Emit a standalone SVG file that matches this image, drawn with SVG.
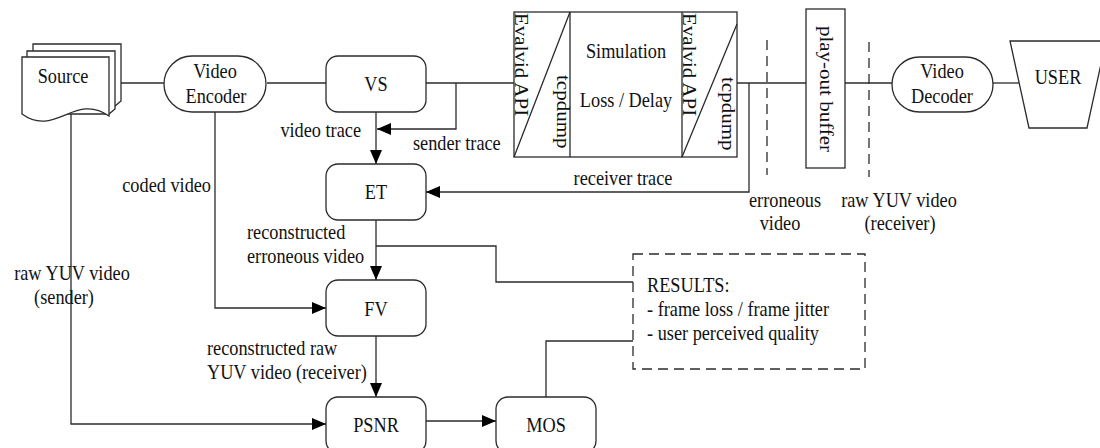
<svg xmlns="http://www.w3.org/2000/svg" width="1100" height="448" viewBox="0 0 1100 448">
  <defs>
    <style>
      .ln { fill: none; stroke: #2b2b2b; stroke-width: 1.3; }
      .dash { fill: none; stroke: #2b2b2b; stroke-width: 1.3; stroke-dasharray: 10 6; }
      .box { fill: #ffffff; stroke: #2b2b2b; stroke-width: 1.3; }
      .t { font-family: 'Liberation Serif', 'DejaVu Serif', serif; font-size: 21px; fill: #111111; }
      .m { text-anchor: middle; }
      .e { text-anchor: end; }
    </style>
    <marker id="arrow" markerUnits="userSpaceOnUse" markerWidth="14" markerHeight="12" refX="14" refY="6" orient="auto">
      <path d="M0,0 L14,6 L0,12 Z" fill="#000000"/>
    </marker>
  </defs>

  <rect width="1100" height="448" fill="#ffffff"/>

  <!-- connectors -->
  <g id="connectors">
    <path class="ln" d="M121,83 H164"/>
    <path class="ln" d="M267,83 H326"/>
    <path class="ln" d="M426,83 H514"/>
    <path class="ln" d="M456,83 V129 H377" marker-end="url(#arrow)"/>
    <path class="ln" d="M376,112 V164" marker-end="url(#arrow)"/>
    <path class="ln" d="M737,83 H806"/>
    <path class="ln" d="M749,83 V192 H426" marker-end="url(#arrow)"/>
    <path class="ln" d="M845,83 H892"/>
    <path class="ln" d="M993,83 H1021"/>
    <path class="ln" d="M71,112 V424 H326" marker-end="url(#arrow)"/>
    <path class="ln" d="M215,112 V308 H326" marker-end="url(#arrow)"/>
    <path class="ln" d="M376,220 V280" marker-end="url(#arrow)"/>
    <path class="ln" d="M376,246 H496 V282 H633"/>
    <path class="ln" d="M376,336 V397" marker-end="url(#arrow)"/>
    <path class="ln" d="M426,421 H496" marker-end="url(#arrow)"/>
    <path class="ln" d="M546,397 V341 H633"/>
    <!-- capture points on the link -->
    <path class="dash" d="M767,40 V175"/>
    <path class="dash" d="M869,42 V177"/>
  </g>

  <!-- connector labels -->
  <g id="labels" font-family="Liberation Serif, serif">
    <text class="t e" transform="translate(361,137) scale(0.87,1)">video trace</text>
    <text class="t" transform="translate(413,150) scale(0.87,1)">sender trace</text>
    <text class="t m" transform="translate(623,185) scale(0.87,1)">receiver trace</text>
    <text class="t e" transform="translate(211,192) scale(0.87,1)">coded video</text>
    <text class="t m" transform="translate(72,280) scale(0.87,1)">raw YUV video</text>
    <text class="t m" transform="translate(64,304) scale(0.87,1)">(sender)</text>
    <text class="t" transform="translate(247,239) scale(0.87,1)">reconstructed</text>
    <text class="t" transform="translate(247,263) scale(0.87,1)">erroneous video</text>
    <text class="t" transform="translate(207,355) scale(0.87,1)">reconstructed raw</text>
    <text class="t" transform="translate(207,379) scale(0.87,1)">YUV video (receiver)</text>
    <text class="t m" transform="translate(785,207) scale(0.87,1)">erroneous</text>
    <text class="t m" transform="translate(780,230) scale(0.87,1)">video</text>
    <text class="t m" transform="translate(899,207) scale(0.87,1)">raw YUV video</text>
    <text class="t m" transform="translate(900,230) scale(0.87,1)">(receiver)</text>
  </g>

  <!-- source: stacked documents -->
  <g id="source">
    <path class="box" d="M33,44 H121 V101 L115,106 L33,106 Z"/>
    <path class="box" d="M27,51 H115 V109 L109,114 L27,114 Z"/>
    <path class="box" d="M22,57 H109 V116 C75,92 55,138 22,114 Z"/>
    <text class="t m" transform="translate(63,83) scale(0.87,1)">Source</text>
  </g>

  <g id="video-encoder">
    <rect class="box" x="164" y="56" width="102" height="56" rx="28"/>
    <text class="t m" transform="translate(215,78) scale(0.87,1)">Video</text>
    <text class="t m" transform="translate(216,102.5) scale(0.87,1)">Encoder</text>
  </g>

  <g id="vs">
    <rect class="box" x="326" y="56" width="100" height="56" rx="12"/>
    <text class="t m" transform="translate(376,91) scale(0.87,1)">VS</text>
  </g>

  <g id="et">
    <rect class="box" x="326" y="164" width="100" height="56" rx="12"/>
    <text class="t m" transform="translate(376,199) scale(0.87,1)">ET</text>
  </g>

  <g id="fv">
    <rect class="box" x="326" y="280" width="100" height="56" rx="12"/>
    <text class="t m" transform="translate(376,316) scale(0.87,1)">FV</text>
  </g>

  <g id="psnr">
    <rect class="box" x="326" y="397" width="100" height="56" rx="12"/>
    <text class="t m" transform="translate(376,432) scale(0.87,1)">PSNR</text>
  </g>

  <g id="mos">
    <rect class="box" x="496" y="397" width="100" height="56" rx="12"/>
    <text class="t m" transform="translate(546,432) scale(0.87,1)">MOS</text>
  </g>

  <!-- network simulation with sender / receiver interfaces -->
  <g id="simulation">
    <rect class="box" x="514" y="12" width="223" height="145"/>
    <path class="ln" d="M570,12 V157 M682,12 V157"/>
    <path class="ln" d="M514,157 L570,12 M682,157 L737,24"/>
    <text class="t" transform="translate(515,13) scale(0.87,1) rotate(90)">Evalvid API</text>
    <text class="t" transform="translate(557,75) scale(0.87,1) rotate(90)">tcpdump</text>
    <text class="t m" transform="translate(626,58) scale(0.87,1)">Simulation</text>
    <text class="t m" transform="translate(626,107) scale(0.87,1)">Loss / Delay</text>
    <text class="t" transform="translate(683,13) scale(0.87,1) rotate(90)">Evalvid API</text>
    <text class="t" transform="translate(722,77) scale(0.87,1) rotate(90)">tcpdump</text>
  </g>

  <g id="playout-buffer">
    <rect class="box" x="806" y="9" width="39" height="159"/>
    <text class="t m" transform="translate(820,89) scale(0.87,1) rotate(90)">play-out buffer</text>
  </g>

  <g id="video-decoder">
    <rect class="box" x="892" y="57" width="101" height="55" rx="27.5"/>
    <text class="t m" transform="translate(942,78) scale(0.87,1)">Video</text>
    <text class="t m" transform="translate(942,103) scale(0.87,1)">Decoder</text>
  </g>

  <g id="user">
    <path class="box" d="M1010,41 H1106 L1087,128 H1029 Z"/>
    <text class="t m" transform="translate(1058,84) scale(0.87,1)">USER</text>
  </g>

  <g id="results">
    <rect class="dash" x="633" y="254" width="232" height="115"/>
    <text class="t" transform="translate(647,291.5) scale(0.87,1)">RESULTS:</text>
    <text class="t" transform="translate(647,316) scale(0.87,1)">- frame loss / frame jitter</text>
    <text class="t" transform="translate(647,340) scale(0.87,1)">- user perceived quality</text>
  </g>
</svg>
